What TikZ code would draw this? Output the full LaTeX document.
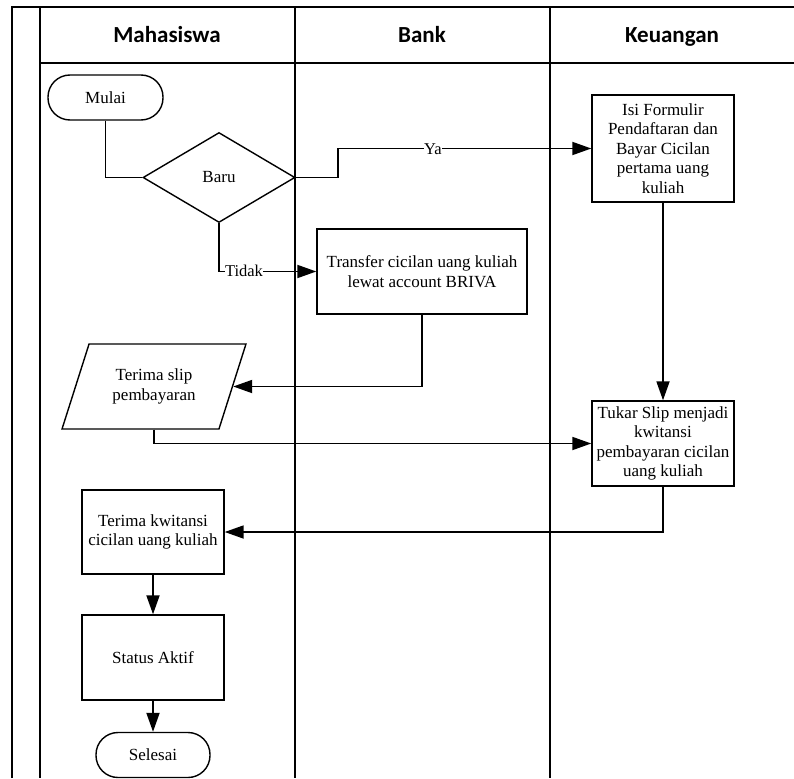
\documentclass[tikz,border=0pt]{standalone}
\usepackage{fontspec}
\setmainfont{Liberation Serif}
\newfontfamily\headfont{Carlito}
\usetikzlibrary{shapes.geometric,arrows.meta}
\begin{document}
\begin{tikzpicture}[x=1pt,y=-1pt,
  every node/.style={font=\fontsize{17}{19.5}\selectfont},
  frame/.style={line width=1.6pt},
  conn/.style={line width=1.8pt},
  arr/.style={conn,-{Triangle[length=19pt,width=13pt]}},
  proc/.style={draw,line width=1.4pt,align=center,inner sep=1pt},
  term/.style={draw,line width=1.4pt,rounded corners=22pt,align=center},
  lbl/.style={fill=white,inner sep=0.5pt,font=\fontsize{16.5}{18}\selectfont},
  head/.style={font=\headfont\bfseries\fontsize{23}{26}\selectfont,anchor=base}]
\useasboundingbox (0,0) rectangle (794,778);
% frame
\draw[frame] (12,778) -- (12,7) -- (794,7);
\draw[frame] (40,7) -- (40,778);
\draw[frame] (40,63) -- (794,63);
\draw[frame] (295,7) -- (295,778);
\draw[frame] (550,7) -- (550,778);
\node[head] (hm) at (167,43) {Mahasiswa};
\node[head] (hb) at (422,43) {Bank};
\node[head] (hk) at (672,43) {Keuangan};
% nodes
\node[term,minimum width=115pt,minimum height=45pt] (mulai) at (105.5,97.5) {Mulai};
\node[draw,line width=1.4pt,shape=diamond,inner sep=0pt,minimum width=152pt,minimum height=90pt] (baru) at (219,177.5) {Baru};
\node[proc,minimum width=142pt,minimum height=107pt] (isi) at (663,148.5) {Isi Formulir\\Pendaftaran dan\\Bayar Cicilan\\pertama uang\\kuliah};
\node[proc,minimum width=210pt,minimum height=85pt] (tr) at (422,271.5) {Transfer cicilan uang kuliah\\lewat account BRIVA};
\node[draw,line width=1.4pt,trapezium,trapezium left angle=63.7,trapezium right angle=116.3,trapezium stretches=true,minimum width=184pt,minimum height=85pt,align=center,inner sep=0pt] (slip) at (154,386.5) {Terima slip\\pembayaran};
\node[proc,minimum width=142pt,minimum height=85pt] (tukar) at (663,443.5) {Tukar Slip menjadi\\kwitansi\\pembayaran cicilan\\uang kuliah};
\node[proc,minimum width=142pt,minimum height=84pt] (kw) at (153,532) {Terima kwitansi\\cicilan uang kuliah};
\node[proc,minimum width=142pt,minimum height=85pt] (st) at (153,657.5) {Status Aktif};
\node[term,minimum width=114pt,minimum height=45pt] (sel) at (153,755) {Selesai};
% connectors
\draw[conn] (mulai.south) |- (baru.west);
\draw[arr] (baru.east) -- ++(42,0) |- (isi.west);
\node[lbl] (ya) at (433,149) {Ya};
\draw[arr] (baru.south) |- (tr.west);
\node[lbl] (tidak) at (244,271) {Tidak};
\draw[arr] (tr.south) |- (slip.east);
\draw[arr] (isi.south) -- (tukar.north);
\draw[arr] (slip.south) |- (tukar.west);
\draw[arr] (tukar.south) |- (kw.east);
\draw[arr] (kw.south) -- (st.north);
\draw[arr] (st.south) -- (sel.north);
\end{tikzpicture}
\end{document}
